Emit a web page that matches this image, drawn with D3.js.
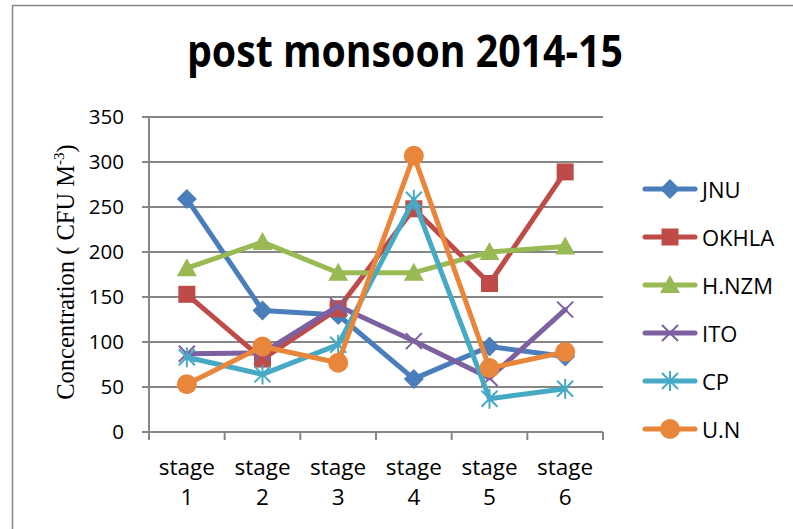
<!DOCTYPE html>
<html>
<head>
<meta charset="utf-8">
<script src="https://cdn.jsdelivr.net/npm/d3@7"></script>
<style>
  body { margin: 0; background: #fff; }
  svg { display: block; }
</style>
</head>
<body>
<div id="chart"></div>
<script>
// chart values
const stages = ["stage 1", "stage 2", "stage 3", "stage 4", "stage 5", "stage 6"];
const seriesNames = ["JNU", "OKHLA", "H.NZM", "ITO", "CP", "U.N"];
const jnu   = [259, 135, 130, 59, 95, 84];
const okhla = [153, 81, 137, 248, 165, 289];
const hnzm  = [182, 211, 177, 177, 200, 206];
const ito   = [87, 88, 140, 101, 60, 136];
const cp    = [83, 64, 97, 258, 37, 48];
const un    = [53, 95, 77, 307, 71, 89];
const yTicks = [0, 50, 100, 150, 200, 250, 300, 350];

const colors = ["#4A7EBB", "#BE4B48", "#98B954", "#7D60A0", "#46AAC5", "#E8863B"];
const shapes = ["diamond", "square", "triangle", "x", "star", "circle"];

const series = [jnu, okhla, hnzm, ito, cp, un].map(function (vals, i) {
    return {name: seriesNames[i], values: vals, color: colors[i], shape: shapes[i]};
});

const width = 793, height = 529;
const plot = {left: 149, right: 603, top: 117, bottom: 432};

const svg = d3.select("#chart").append("svg")
    .attr("width", width)
    .attr("height", height);

// outer frame
svg.append("rect")
    .attr("x", 12.5).attr("y", 5.5)
    .attr("width", 800).attr("height", 540)
    .attr("fill", "none")
    .attr("stroke", "#868686")
    .attr("stroke-width", 1.5);

const x = d3.scaleBand().domain(stages).range([plot.left, plot.right]).padding(0);
const y = d3.scaleLinear().domain([0, 350]).range([plot.bottom, plot.top]);
const cx = function (i) { return x(stages[i]) + x.bandwidth() / 2; };

// y axis labels
const yAxis = svg.append("g")
    .attr("transform", "translate(" + plot.left + ",0)")
    .call(d3.axisLeft(y).tickValues(yTicks).tickSize(0).tickPadding(25));
yAxis.select(".domain").remove();
yAxis.selectAll("text")
    .attr("font-family", "Open Sans")
    .attr("font-size", 20.5)
    .attr("fill", "#000");

// gridlines
svg.append("g").selectAll("line.grid")
    .data(yTicks.filter(function (d) { return d > 0; }))
    .enter().append("line")
    .attr("x1", plot.left).attr("x2", plot.right)
    .attr("y1", function (d) { return y(d); })
    .attr("y2", function (d) { return y(d); })
    .attr("stroke", "#868686")
    .attr("stroke-width", 2);

svg.append("g").selectAll("line.ytick")
    .data(yTicks)
    .enter().append("line")
    .attr("x1", plot.left - 7).attr("x2", plot.left)
    .attr("y1", function (d) { return y(d); })
    .attr("y2", function (d) { return y(d); })
    .attr("stroke", "#868686")
    .attr("stroke-width", 2);

// axis lines
svg.append("line")
    .attr("x1", plot.left).attr("x2", plot.left)
    .attr("y1", plot.top).attr("y2", plot.bottom)
    .attr("stroke", "#868686").attr("stroke-width", 2);
svg.append("line")
    .attr("x1", plot.left).attr("x2", plot.right)
    .attr("y1", plot.bottom).attr("y2", plot.bottom)
    .attr("stroke", "#868686").attr("stroke-width", 2);

// x tick marks at category boundaries
const bounds = stages.map(function (s) { return x(s); }).concat([plot.right]);
svg.append("g").selectAll("line")
    .data(bounds)
    .enter().append("line")
    .attr("x1", function (d) { return d; })
    .attr("x2", function (d) { return d; })
    .attr("y1", plot.bottom).attr("y2", plot.bottom + 8)
    .attr("stroke", "#868686").attr("stroke-width", 2);

// x labels, two lines
const xLab = svg.append("g").selectAll("text")
    .data(stages)
    .enter().append("text")
    .attr("text-anchor", "middle")
    .attr("font-family", "Open Sans")
    .attr("font-size", 22.5)
    .attr("fill", "#000");
xLab.append("tspan")
    .attr("x", function (d, i) { return cx(i); })
    .attr("y", 475)
    .text(function (d) { return d.split(" ")[0]; });
xLab.append("tspan")
    .attr("x", function (d, i) { return cx(i); })
    .attr("y", 505)
    .text(function (d) { return d.split(" ")[1]; });

// title
svg.append("text")
    .attr("x", 405).attr("y", 67)
    .attr("text-anchor", "middle")
    .attr("font-family", "Open Sans")
    .attr("font-weight", "bold")
    .attr("font-size", 44)
    .attr("textLength", 436)
    .attr("lengthAdjust", "spacingAndGlyphs")
    .text("post monsoon 2014-15");

// y axis title
const yTitle = svg.append("text")
    .attr("transform", "translate(74,272) rotate(-90)")
    .attr("text-anchor", "middle")
    .attr("font-family", "Liberation Serif")
    .attr("font-size", 24.5)
    .attr("fill", "#000");
yTitle.append("tspan").text("Concentration ( CFU M");
yTitle.append("tspan").attr("font-size", 15).attr("dy", -10).text("-3");
yTitle.append("tspan").attr("dy", 10).text(")");

// marker drawing
function drawMarker(g, shape, color, px, py) {
    if (shape === "diamond") {
        g.append("path")
            .attr("d", "M" + px + "," + (py - 10) + "L" + (px + 10) + "," + py + "L" + px + "," + (py + 10) + "L" + (px - 10) + "," + py + "Z")
            .attr("fill", color);
    } else if (shape === "square") {
        g.append("rect")
            .attr("x", px - 8.5).attr("y", py - 8.5)
            .attr("width", 17).attr("height", 17)
            .attr("fill", color);
    } else if (shape === "triangle") {
        g.append("path")
            .attr("d", "M" + px + "," + (py - 10) + "L" + (px + 10) + "," + (py + 8) + "L" + (px - 10) + "," + (py + 8) + "Z")
            .attr("fill", color);
    } else if (shape === "x") {
        g.append("path")
            .attr("d", "M" + (px - 8) + "," + (py - 8) + "L" + (px + 8) + "," + (py + 8) + "M" + (px + 8) + "," + (py - 8) + "L" + (px - 8) + "," + (py + 8))
            .attr("stroke", color).attr("stroke-width", 2).attr("fill", "none");
    } else if (shape === "star") {
        g.append("path")
            .attr("d", "M" + (px - 8) + "," + (py - 8) + "L" + (px + 8) + "," + (py + 8) + "M" + (px + 8) + "," + (py - 8) + "L" + (px - 8) + "," + (py + 8) +
                "M" + px + "," + (py - 10) + "L" + px + "," + (py + 10))
            .attr("stroke", color).attr("stroke-width", 2).attr("fill", "none");
    } else {
        g.append("circle")
            .attr("cx", px).attr("cy", py).attr("r", 10)
            .attr("fill", color);
    }
}

const line = d3.line()
    .x(function (d, i) { return cx(i); })
    .y(function (d) { return y(d); });

series.forEach(function (s) {
    const g = svg.append("g");
    g.append("path")
        .attr("d", line(s.values))
        .attr("fill", "none")
        .attr("stroke", s.color)
        .attr("stroke-width", 5)
        .attr("stroke-linejoin", "round")
        .attr("stroke-linecap", "round");
    s.values.forEach(function (v, i) {
        drawMarker(g, s.shape, s.color, cx(i), y(v));
    });
});

// legend
const legendY = d3.scalePoint().domain(seriesNames).range([189, 429]);
series.forEach(function (s) {
    const ly = legendY(s.name);
    const g = svg.append("g");
    g.append("line")
        .attr("x1", 645).attr("x2", 695)
        .attr("y1", ly).attr("y2", ly)
        .attr("stroke", s.color).attr("stroke-width", 5)
        .attr("stroke-linecap", "round");
    drawMarker(g, s.shape, s.color, 670, ly);
    g.append("text")
        .attr("x", 702).attr("y", ly + 8.5)
        .attr("font-family", "Open Sans")
        .attr("font-size", 22)
        .attr("fill", "#000")
        .text(s.name);
});
</script>
</body>
</html>
